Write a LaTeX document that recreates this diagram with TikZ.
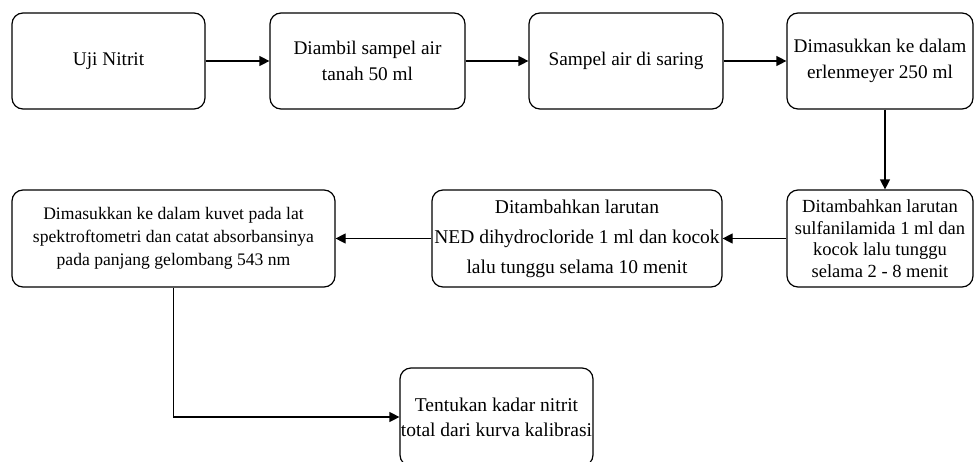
\documentclass[tikz,border=0pt]{standalone}
\usepackage{fontspec}
\setmainfont{Liberation Serif}
\usetikzlibrary{arrows.meta}
\begin{document}
\begin{tikzpicture}[x=1pt,y=-1pt,
  box/.style={draw, line width=1.2pt, rounded corners=11pt, align=center, inner sep=0pt,
    font=\fontsize{19.3}{26}\selectfont},
  conn/.style={line width=1.2pt, -{Triangle[length=10pt,width=10pt]}}]
\useasboundingbox[fill=white] (0,0) rectangle (975,461);
\node[box, minimum width=193pt, minimum height=96pt] (b1) at (108.5,61) {Uji Nitrit};
\node[box, minimum width=195pt, minimum height=96pt] (b2) at (367.5,61) {Diambil sampel air\\tanah 50 ml};
\node[box, minimum width=194pt, minimum height=96pt] (b3) at (626,61) {Sampel air di saring};
\node[box, minimum width=186pt, minimum height=96pt] (b4) at (880,61) {Dimasukkan ke dalam\\erlenmeyer 250 ml};
\node[box, minimum width=186pt, minimum height=97pt, font=\fontsize{18.5}{21.5}\selectfont] (b5) at (880,238.5) {Ditambahkan larutan\\sulfanilamida 1 ml dan\\kocok lalu tunggu\\selama 2 - 8 menit};
\node[box, minimum width=290pt, minimum height=97pt, font=\fontsize{19.5}{30}\selectfont] (b6) at (577,238.5) {Ditambahkan larutan\\NED dihydrocloride 1 ml dan kocok\\lalu tunggu selama 10 menit};
\node[box, minimum width=323pt, minimum height=97pt, font=\fontsize{17.6}{23}\selectfont] (b7) at (173.5,238.5) {Dimasukkan ke dalam kuvet pada lat\\spektroftometri dan catat absorbansinya\\pada panjang gelombang 543 nm};
\node[box, minimum width=193pt, minimum height=98pt, font=\fontsize{19.5}{25}\selectfont] (b8) at (496.5,417) {Tentukan kadar nitrit\\total dari kurva kalibrasi};
\draw[conn] (b1) -- (b2);
\draw[conn] (b2) -- (b3);
\draw[conn] (b3) -- (b4);
\draw[conn] (b4.south -| 885,0) -- (b5.north -| 885,0);
\draw[conn] (b5) -- (b6);
\draw[conn] (b6) -- (b7);
\draw[conn] (b7.south) |- (b8.west);
\end{tikzpicture}
\end{document}
